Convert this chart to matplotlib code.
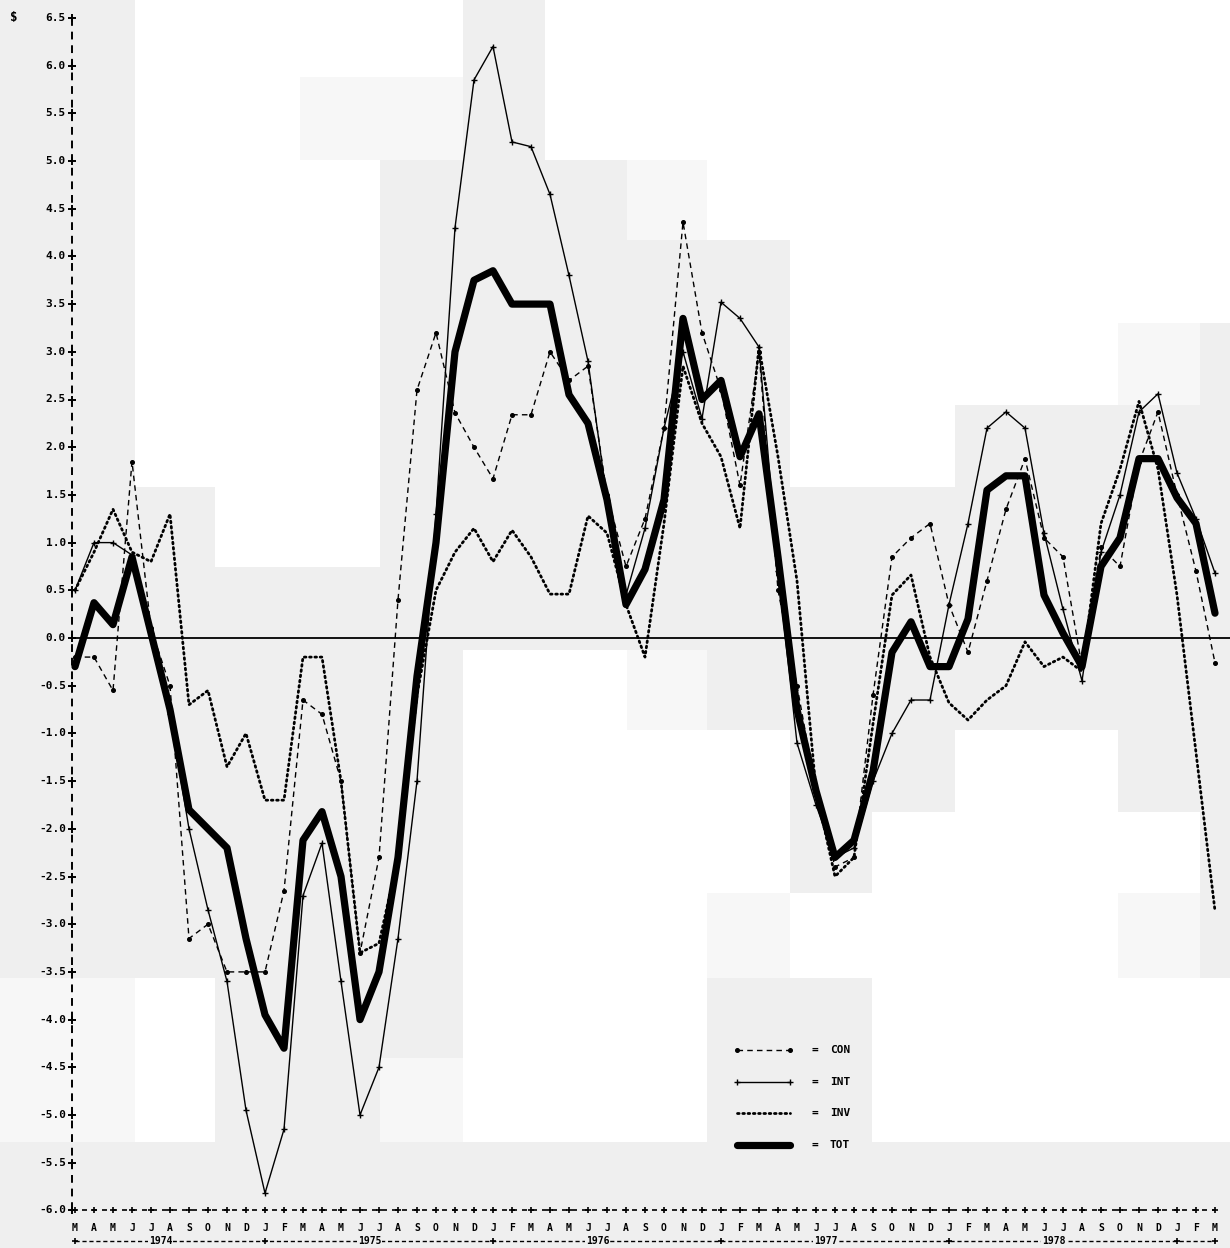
import matplotlib
matplotlib.use("Agg")
import matplotlib.pyplot as plt
from matplotlib.patches import Rectangle

# ---------------- data (monthly, Mar 1974 .. Mar 1979) ----------------
month_letters = list("MAMJJASONDJF" * 5 + "M")
years = ["1974", "1975", "1976", "1977", "1978"]
year_centers = [4.5, 15.5, 27.5, 39.5, 51.5]
year_bounds = [0, 10, 22, 34, 46, 58, 60]

series_names = ["CON", "INT", "INV", "TOT"]

con = [-0.2, -0.2, -0.55, 1.85, 0.1, -0.5, -3.15, -3.0, -3.5, -3.5, -3.5, -2.65,
       -0.65, -0.8, -1.5, -3.3, -2.3, 0.4, 2.6, 3.2, 2.36, 2.0, 1.67, 2.34,
       2.34, 3.0, 2.7, 2.85, 1.5, 0.75, 1.25, 2.2, 4.36, 3.2, 2.6, 1.6,
       3.0, 0.5, -0.5, -1.6, -2.4, -2.3, -0.6, 0.85, 1.05, 1.2, 0.35, -0.15,
       0.6, 1.35, 1.88, 1.05, 0.85, -0.3, 0.95, 0.75, 1.84, 2.37, 1.5, 0.7, -0.26]
intr = [0.5, 1.0, 1.0, 0.87, 0.05, -0.8, -2.0, -2.85, -3.6, -4.95, -5.82, -5.15,
        -2.7, -2.15, -3.6, -5.0, -4.5, -3.15, -1.5, 1.3, 4.3, 5.85, 6.2, 5.2,
        5.15, 4.65, 3.8, 2.9, 1.45, 0.45, 1.15, 2.2, 3.0, 2.3, 3.52, 3.35,
        3.05, 0.7, -1.1, -1.75, -2.3, -2.2, -1.5, -1.0, -0.65, -0.65, 0.35, 1.2,
        2.2, 2.37, 2.2, 1.1, 0.3, -0.45, 0.9, 1.5, 2.37, 2.56, 1.73, 1.25, 0.68]
inv = [0.5, 0.9, 1.35, 0.9, 0.8, 1.3, -0.7, -0.55, -1.35, -1.0, -1.7, -1.7,
       -0.2, -0.2, -1.5, -3.3, -3.2, -2.3, -0.6, 0.5, 0.9, 1.15, 0.8, 1.13,
       0.85, 0.46, 0.46, 1.28, 1.1, 0.35, -0.2, 1.2, 2.85, 2.25, 1.9, 1.15,
       3.05, 1.9, 0.6, -1.6, -2.5, -2.3, -0.9, 0.45, 0.66, -0.2, -0.68, -0.86,
       -0.65, -0.5, -0.04, -0.3, -0.2, -0.35, 1.2, 1.77, 2.48, 1.77, 0.45, -1.2, -2.86]
tot = [-0.3, 0.37, 0.14, 0.85, 0.05, -0.75, -1.8, -2.0, -2.2, -3.15, -3.95, -4.3,
       -2.12, -1.82, -2.5, -4.0, -3.5, -2.3, -0.4, 1.0, 3.0, 3.75, 3.85, 3.5,
       3.5, 3.5, 2.55, 2.25, 1.45, 0.35, 0.72, 1.45, 3.35, 2.5, 2.7, 1.9,
       2.35, 0.85, -0.75, -1.6, -2.3, -2.12, -1.4, -0.15, 0.17, -0.3, -0.3, 0.2,
       1.55, 1.7, 1.7, 0.45, 0.05, -0.3, 0.75, 1.05, 1.88, 1.88, 1.47, 1.2, 0.26]

y_ticks = [6.5 - 0.5 * k for k in range(26)]

# ---------------- layout helpers (pixel layout of the page) ----------------
W, H = 1230, 1248
def px2i(px):
    return (px - 75) / 19.0
def py2v(py):
    return (638 - py) / 95.4

fig = plt.figure(figsize=(W / 100, H / 100), dpi=100)
fig.patch.set_facecolor("#efefef")

# scanned-page background blocks, on their own axes underneath
bg = fig.add_axes([0, 0, 1, 1], zorder=-5)
bg.set_xlim(0, W)
bg.set_ylim(H, 0)
bg.axis("off")
bg.patch.set_facecolor("#efefef")
xe = [0, 135, 215, 300, 380, 463, 545, 627, 707, 790, 872, 955, 1035, 1118, 1200, 1230]
ye = [0, 77, 160, 240, 323, 405, 487, 567, 650, 730, 812, 893, 978, 1058, 1142, 1248]
block_map = [
    "gwwwwgwwwwwwwww",
    "gwwffgwwwwwwwww",
    "gwwwgggfwwwwwww",
    "gwwwgggggwwwwww",
    "gwwwgggggwwwwfg",
    "gwwwgggggwwgggg",
    "ggwwggggggggggg",
    "ggggggggggggggg",
    "gggggwwfggggggg",
    "gggggwwwwggwwgg",
    "gggggwwwwgwwwwg",
    "gggggwwwfwwwwfg",
    "fwgggwwwggwwwww",
    "fwggfwwwggwwwww",
    "ggggggggggggggg",
]
cols = {"g": "#efefef", "w": "#ffffff", "f": "#f7f7f7"}
for r, row in enumerate(block_map):
    for c, ch in enumerate(row):
        if ch == "g":
            continue
        bg.add_patch(Rectangle((xe[c], ye[r]), xe[c + 1] - xe[c], ye[r + 1] - ye[r],
                               facecolor=cols[ch], edgecolor="none"))

ax = fig.add_axes([0, 0, 1, 1], zorder=1)
ax.set_xlim(px2i(0), px2i(W))
ax.set_ylim(py2v(H), py2v(0))
ax.axis("off")
ax.patch.set_alpha(0)

mono = dict(family="DejaVu Sans Mono", weight="bold", color="black")

# left axis (dashed, '+' ticks)
ax_x = px2i(72)
ax.plot([ax_x, ax_x], [-6.0, 6.5], color="black", lw=1.4, ls=(0, (4, 3)), zorder=3)
ax.plot([ax_x] * len(y_ticks), y_ticks, ls="none", marker="+", ms=6, mew=1.4,
        color="black", zorder=3)
for v in y_ticks:
    ax.text(px2i(66), v, f"{v:.1f}", ha="right", va="center", fontsize=8, **mono)
ax.text(px2i(14), py2v(18), "$", ha="center", va="center", fontsize=9, **mono)

# bottom axis at -6.0
n = len(tot)
xs = list(range(n))
ax.plot([ax_x, n - 1], [-6.0, -6.0], color="black", lw=1.2, ls=(0, (3, 3)), zorder=3)
ax.plot(xs, [-6.0] * n, ls="none", marker="+", ms=5, mew=1.2, color="black", zorder=3)
for i, m in enumerate(month_letters):
    ax.text(i, py2v(1228), m, ha="center", va="center", fontsize=7, **mono)
yrow = py2v(1241)
ax.plot([0, n - 1], [yrow, yrow], color="black", lw=1.0, ls=(0, (3, 2)), zorder=3)
ax.plot(year_bounds, [yrow] * len(year_bounds), ls="none", marker="+", ms=5, mew=1.2,
        color="black", zorder=3)
for yc, yl in zip(year_centers, years):
    ax.text(yc, yrow, yl, ha="center", va="center", fontsize=7, zorder=4,
            bbox=dict(facecolor="#efefef", edgecolor="none", pad=0.5), **mono)

# zero line
ax.plot([ax_x, px2i(W)], [0, 0], color="black", lw=1.3, zorder=2)

# series
style_con = dict(color="black", lw=1.0, ls=(0, (4, 3)), marker="o", ms=2.6)
style_int = dict(color="black", lw=1.0, ls="-", marker="+", ms=5, mew=1.0)
style_inv = dict(color="black", lw=2.0, ls=(0, (0.6, 1.3)), dash_capstyle="round")
style_tot = dict(color="black", lw=5.2, ls="-", solid_joinstyle="round",
                 solid_capstyle="round")

ax.plot(xs, con, zorder=5, **style_con)
ax.plot(xs, intr, zorder=5, **style_int)
ax.plot(xs, inv, zorder=5, **style_inv)
ax.plot(xs, tot, zorder=6, **style_tot)

# legend (drawn as in the printout)
leg_y = [1050, 1082, 1113, 1145]
styles = [style_con, style_int, style_inv, style_tot]
lx0, lx1 = px2i(737), px2i(790)
for py, st, name in zip(leg_y, styles, series_names):
    s = dict(st)
    if name in ("CON", "INT"):
        s["markevery"] = [0, 1]
    ax.plot([lx0, lx1], [py2v(py), py2v(py)], zorder=5, **s)
    ax.text(px2i(815), py2v(py), "=", ha="center", va="center", fontsize=8, **mono)
    ax.text(px2i(830), py2v(py), name, ha="left", va="center", fontsize=8, **mono)

fig.savefig("out.png", dpi=100, facecolor=fig.get_facecolor())
